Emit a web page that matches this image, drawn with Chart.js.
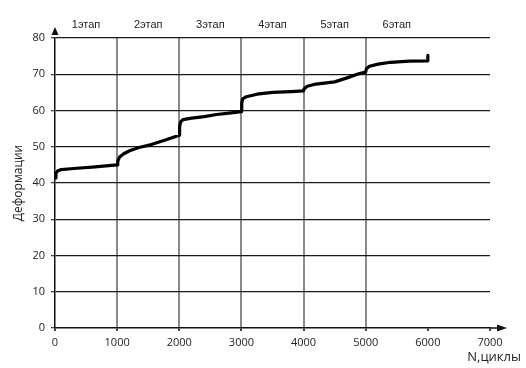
<!DOCTYPE html>
<html>
<head>
<meta charset="utf-8">
<script src="https://cdn.jsdelivr.net/npm/chart.js@4"></script>
<style>
  html, body { margin: 0; padding: 0; background: #fff; }
  #wrap { width: 526px; height: 368px; }
</style>
</head>
<body>
<div id="wrap"><canvas id="grafik"></canvas></div>
<script>
// циклы и деформации
const cycles = [0, 15, 40, 100, 300, 600, 1000,
  1010, 1040, 1100, 1200, 1350, 1550, 1800, 2000,
  2005, 2020, 2060, 2200, 2400, 2600, 2800, 3000,
  3005, 3020, 3080, 3250, 3500, 3800, 4000,
  4010, 4060, 4200, 4500, 4700, 4900, 5000,
  5010, 5060, 5200, 5400, 5700, 6000, 6000]
const deform = [41.4, 42.6, 43.3, 43.7, 44.0, 44.4, 45.0,
  46.0, 47.2, 48.0, 48.9, 49.8, 50.6, 52.0, 53.2,
  55.5, 56.8, 57.5, 57.9, 58.3, 58.9, 59.3, 59.7,
  62.0, 63.2, 63.8, 64.5, 65.0, 65.2, 65.4,
  66.0, 66.7, 67.3, 67.9, 69.0, 70.2, 70.6,
  71.5, 72.2, 72.8, 73.3, 73.6, 73.7, 75.2]

const etapy = ["1этап", "2этап", "3этап", "4этап", "5этап", "6этап"]
const granicy = [1000, 2000, 3000, 4000, 5000]

const xTitle = "N,циклы"
const yTitle = "Деформации"

const tickFont = { family: "Open Sans", size: 11 }

const decor = {
  id: 'decor',
  afterDraw(chart) {
    const c = chart.ctx
    const xs = chart.scales.x
    const ys = chart.scales.y
    const x0 = xs.getPixelForValue(0)
    const y0 = ys.getPixelForValue(0)
    c.save()
    c.fillStyle = '#111'
    // стрелки осей
    c.beginPath()
    c.moveTo(x0, ys.top - 11)
    c.lineTo(x0 - 3.5, ys.top - 3)
    c.lineTo(x0 + 3.5, ys.top - 3)
    c.closePath()
    c.fill()
    c.beginPath()
    c.moveTo(xs.right + 17, y0)
    c.lineTo(xs.right + 7, y0 - 3.5)
    c.lineTo(xs.right + 7, y0 + 3.5)
    c.closePath()
    c.fill()
    c.strokeStyle = '#111'
    c.lineWidth = 1.5
    c.beginPath()
    c.moveTo(xs.right, y0)
    c.lineTo(xs.right + 8, y0)
    c.stroke()
    // подписи этапов
    c.font = '11px "Liberation Sans"'
    c.textAlign = 'center'
    c.textBaseline = 'middle'
    c.fillStyle = '#222'
    etapy.forEach((t, i) => {
      c.fillText(t, xs.getPixelForValue(500 + i * 1000), 25)
    })
    c.font = '13px "Open Sans"'
    c.textAlign = 'right'
    c.fillText(xTitle, 521, 357)
    c.restore()
  }
}

new Chart(document.getElementById('grafik'), {
  type: 'scatter',
  data: {
    datasets: [{
      data: cycles.map((n, i) => ({ x: n, y: deform[i] })),
      showLine: true,
      borderColor: '#000',
      borderWidth: 3.2,
      pointRadius: 0,
      tension: 0,
      borderJoinStyle: 'round',
      borderCapStyle: 'round'
    }]
  },
  options: {
    responsive: true,
    maintainAspectRatio: false,
    animation: false,
    layout: { padding: { top: 38, right: 36, left: 0, bottom: 0 } },
    plugins: { legend: { display: false }, tooltip: { enabled: false } },
    scales: {
      x: {
        type: 'linear',
        min: 0, max: 7000,
        ticks: { stepSize: 1000, color: '#222', font: tickFont, padding: 5, callback: v => String(v) },
        grid: {
          color: ctx => granicy.includes(ctx.tick.value) ? '#8a8a8a' : 'rgba(0,0,0,0)',
          lineWidth: 2,
          tickColor: '#444',
          tickLength: 3,
          drawOnChartArea: true
        },
        border: { color: '#111', width: 1.5 },
        afterFit: axis => { axis.height = 40 }
      },
      y: {
        min: 0, max: 80,
        ticks: { stepSize: 10, color: '#222', font: tickFont, padding: 6 },
        grid: {
          color: ctx => ctx.tick.value === 0 ? 'rgba(0,0,0,0)' : '#1a1a1a',
          lineWidth: 1.3,
          tickColor: '#444',
          tickLength: 4
        },
        border: { color: '#111', width: 1.5 },
        title: {
          display: true, text: yTitle, color: '#222',
          font: { family: "Open Sans", size: 12 },
          padding: { top: 11, bottom: 0 }
        },
        afterFit: axis => { axis.width = 55 }
      }
    }
  },
  plugins: [decor]
});
</script>
</body>
</html>
